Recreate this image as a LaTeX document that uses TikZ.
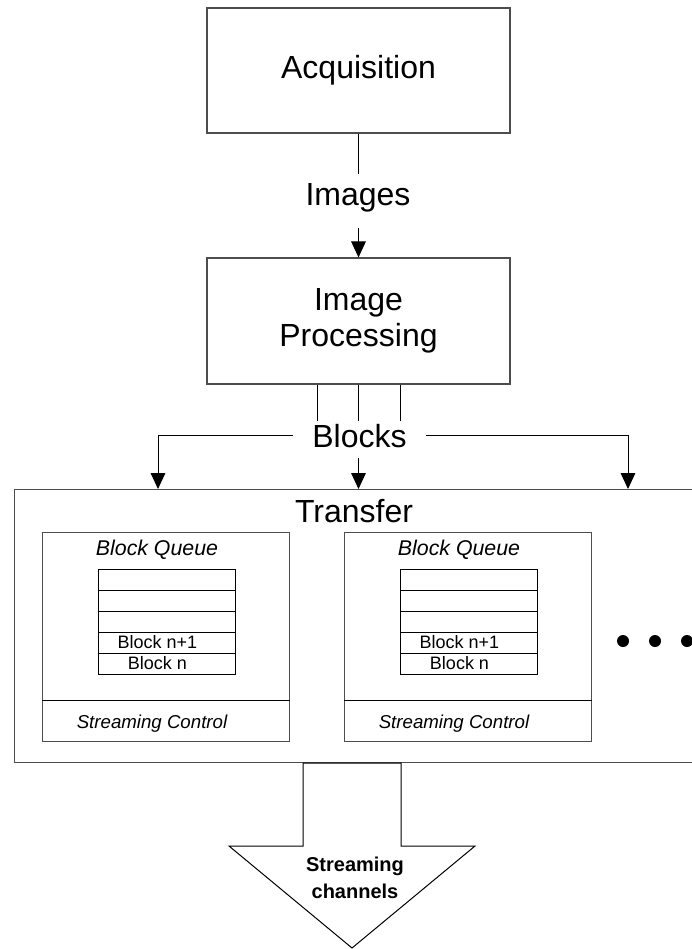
\documentclass[tikz,border=0pt]{standalone}
\usepackage{fontspec}
\setmainfont{Liberation Sans}
\usetikzlibrary{arrows.meta,positioning,calc}
\definecolor{BoxBord}{HTML}{4D4D4D}
\tikzset{
  every picture/.append style={>=Stealth},
  px/.style={x=0.75pt, y=-0.75pt},
  blk/.style={rectangle, draw=BoxBord, line width=0.9pt, fill=white, inner sep=0pt,
              align=center, font=\fontsize{24}{27}\selectfont},
  lbl/.style={rectangle, inner xsep=14.25pt, inner ysep=0pt, text height=17.25pt,
              text depth=5.25pt, font=\fontsize{24}{27}\selectfont},
  que/.style={rectangle, draw=BoxBord, line width=0.9pt, fill=white, inner sep=0pt,
              minimum width=185.25pt, minimum height=156.75pt},
  cell/.style={rectangle, draw=black, line width=0.75pt, inner sep=0pt,
               minimum width=102.75pt, minimum height=15.75pt, font=\fontsize{13.5}{15}\selectfont},
  it/.style={font=\itshape\fontsize{#1}{#1}\selectfont, inner sep=0pt},
  dot/.style={circle, fill=black, inner sep=0pt, minimum size=9pt},
  flow/.style={-{Triangle[length=12pt,width=11pt]}, line width=0.75pt, draw=black},
  wire/.style={line width=0.75pt, draw=black},
}
\begin{document}
\begin{tikzpicture}[px]
\useasboundingbox (0,0) rectangle (692,949);

% ---------------- top chain ----------------------------------------------------
\node[blk, minimum width=227.25pt, minimum height=93.75pt] (acq) at (358.5,70.5) {Acquisition};
\node[lbl] (img) at (358,197) {Images};
\node[blk, minimum width=227.25pt, minimum height=94.5pt] (ipr) at (358.5,321) {Image\\ Processing};
\draw[wire, shorten >=6pt] (acq.south) -- (acq.south |- img.north);
\draw[flow, shorten <=12pt] (ipr.north |- img.south) -- (ipr.north);

% ---------------- transfer frame -----------------------------------------------
\node[blk, anchor=north west, minimum width=514.5pt, minimum height=204.75pt] (xfer) at (14,489) {};
\node[lbl, inner xsep=0pt] (xttl) at (354,514) {Transfer};

% ---------------- blocks fan-out -----------------------------------------------
\node[lbl, text depth=0pt] (blks) at (359.5,435.5) {Blocks};
\foreach \k/\dx in {1/-41,2/0,3/42}{
  \coordinate (tap\k) at ($(ipr.south)+(\dx,0)$);
  \draw[wire, shorten >=2.25pt] (tap\k) -- (tap\k |- blks.north);
}
\draw[flow] (blks.west) -| ($(xfer.north west)+(144,0)$);
\draw[flow] (blks.east) -| ($(xfer.north west)+(614,0)$);
\draw[flow, shorten <=8.25pt] (tap2 |- blks.south) -- (tap2 |- xfer.north);

% ---------------- block queues -------------------------------------------------
\foreach \i/\x in {1/42, 2/344}{
  \node[que, anchor=north west] (q\i) at (\x,532) {};
  \draw[wire] ($(q\i.south west)+(0,-42)$) -- ($(q\i.south east)+(0,-42)$);
  \node[it=16] (bq\i) at ($(q\i.north west)+(115,18)$) {Block Queue};
  \foreach \r/\t in {1/,2/,3/,4/Block n+1,5/Block n}{
    \node[cell] (c\i\r) at ($(q\i.north west)+(124.5,26.5+21*\r)$) {};
    \node[inner sep=0pt, font=\fontsize{13.5}{15}\selectfont] at ($(c\i\r)+(-9,0)$) {\t};
  }
  \node[it=14] (sc\i) at ($(q\i.south west)+(110,-19)$) {Streaming Control};
}
\foreach \k/\x in {1/623,2/655,3/687}{ \node[dot] (d\k) at (\x,641) {}; }

% ---------------- output arrow -------------------------------------------------
\draw[line width=0.75pt, draw=black] (303,763) -- (303,846) -- (229,846) -- (352,948)
  -- (475,846) -- (401,846) -- (401,763) -- cycle;
\node[align=center, font=\bfseries\fontsize{15}{20}\selectfont] (out) at (355,878) {Streaming\\ channels};

\end{tikzpicture}
\end{document}
